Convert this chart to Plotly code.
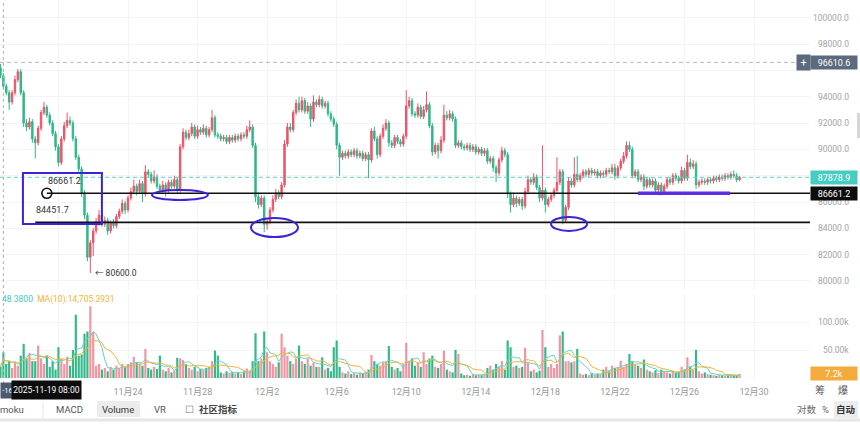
import plotly.graph_objects as go
import pandas as pd

# ---------------- data (4h candles, BTC-like) ----------------
start_time = "2025-11-16 16:00"
first_open = 96200
close = [
    95600, 94800, 94300, 93600, 94300, 95300, 95900, 94300, 92000, 91700,
    92100, 90800, 90500, 91600, 92800, 93200, 92600, 92000, 91200, 90200,
    89000, 90800, 91800, 92200, 92000, 90800, 89400, 88500, 86700, 85000,
    81800, 82900, 83800, 84500, 85000, 84300, 84600, 83800, 84400, 84200,
    84900, 85300, 85900, 85400, 86300, 86800, 87200, 86800, 87400, 86600,
    88300, 88100, 87600, 87900, 87200, 86900, 87300, 86900, 87500, 87200,
    87700, 86900, 90200, 91300, 90900, 91200, 91700, 91000, 91500, 91300,
    91600, 91100, 91500, 92400, 91100, 91000, 90800, 90900, 90600, 90900,
    90700, 91000, 90800, 91100, 91000, 91500, 91700, 90300, 86400, 85800,
    86300, 84300, 84500, 85400, 86200, 86700, 86400, 87300, 90400, 91700,
    91500, 92800, 93500, 93000, 93700, 92900, 93300, 92300, 93600, 93400,
    93800, 93300, 93500, 92700, 92300, 91900, 90300, 89400, 89700, 89500,
    89800, 89600, 89900, 89500, 89700, 89300, 89600, 89200, 91400, 90800,
    89600, 91000, 91600, 92000, 90500, 90300, 90900, 90600, 90400, 91000,
    93300, 93700, 92700, 92600, 93200, 92500, 93000, 93400, 91800, 89800,
    90300, 89900, 90700, 92600, 92400, 92700, 92300, 90300, 90500, 90200,
    90100, 90300, 90000, 90200, 89800, 90000, 89700, 89900, 89100, 89300,
    88600, 88200, 89200, 89900, 89600, 86600, 85800, 86300, 85900, 86200,
    85700, 86800, 87700, 87500, 87900, 87100, 86300, 86900, 85800, 86200,
    86500, 86900, 87500, 88300, 84600, 85600, 87600, 87300, 88100, 87700,
    88000, 88300, 88100, 88400, 88200, 88300, 88000, 88200, 88100, 88400,
    88300, 88600, 88000, 88600, 89100, 89500, 90300, 90000, 88000, 88300,
    87700, 87900, 87200, 87700, 87300, 87600, 86900, 87300, 86800, 87200,
    87700, 87500, 88000, 87800, 87600, 88400, 87800, 89000, 88700, 88900,
    87300, 87500, 87600, 87500, 87700, 87600, 87800, 87700, 87900, 87800,
    88000, 87900, 88100, 88000, 87700, 87878.9,
]
# upper / lower wick lengths in hundreds of USD
upper_wick = [
    3, 2, 2, 2, 2, 3, 2, 2, 2, 3,   3, 2, 2, 2, 2, 4, 2, 2, 2, 2,
    2, 2, 3, 6, 3, 2, 2, 2, 2, 2,   2, 2, 2, 3, 4, 2, 3, 2, 2, 3,
    2, 2, 3, 2, 2, 3, 5, 2, 3, 2,   5, 2, 2, 5, 2, 2, 3, 2, 2, 2,
    3, 2, 2, 3, 2, 3, 3, 2, 3, 2,   3, 2, 2, 6, 2, 2, 2, 2, 2, 2,
    2, 2, 2, 2, 2, 3, 5, 2, 2, 3,   2, 2, 2, 2, 3, 3, 2, 2, 3, 3,
    3, 2, 3, 5, 3, 2, 3, 2, 5, 2,   3, 2, 2, 2, 2, 2, 2, 2, 2, 2,
    2, 2, 2, 2, 2, 2, 2, 2, 2, 3,   2, 2, 3, 3, 2, 2, 2, 2, 2, 2,
    12, 3, 2, 2, 3, 2, 3, 10, 2, 2, 2, 2, 3, 8, 3, 3, 2, 2, 2, 2,
    2, 2, 2, 2, 2, 2, 2, 2, 2, 2,   2, 2, 2, 3, 2, 2, 2, 3, 2, 2,
    2, 3, 3, 2, 3, 2, 2, 34, 2, 2,  2, 2, 19, 2, 2, 2, 3, 2, 13, 14,
    2, 2, 2, 2, 2, 2, 2, 2, 2, 2,   2, 3, 3, 2, 2, 3, 3, 3, 2, 2,
    2, 2, 2, 2, 2, 2, 2, 2, 2, 2,   2, 2, 2, 2, 2, 3, 2, 6, 3, 3,
    2, 2, 2, 2, 2, 2, 2, 2, 2, 2,   2, 2, 2, 3, 2, 1,
]
lower_wick = [
    2, 2, 2, 6, 2, 2, 2, 2, 3, 3,   2, 3, 12, 2, 2, 2, 2, 2, 2, 3,
    3, 2, 2, 2, 2, 2, 2, 2, 3, 3,   3, 12, 10, 2, 3, 2, 2, 3, 2, 2,
    2, 2, 2, 3, 2, 2, 2, 3, 2, 6,   2, 2, 2, 2, 2, 2, 2, 5, 2, 2,
    2, 3, 2, 2, 2, 2, 2, 2, 2, 2,   2, 2, 2, 2, 2, 2, 2, 2, 2, 2,
    2, 2, 2, 2, 2, 2, 2, 2, 4, 3,   2, 6, 4, 2, 2, 2, 2, 2, 2, 2,
    2, 2, 2, 2, 2, 2, 2, 6, 2, 2,   2, 2, 2, 2, 2, 2, 3, 14, 2, 2,
    2, 2, 2, 2, 2, 2, 2, 14, 2, 2,  3, 2, 2, 2, 3, 2, 2, 2, 2, 2,
    2, 2, 2, 2, 2, 2, 2, 2, 2, 3,   2, 6, 2, 2, 2, 2, 2, 2, 2, 2,
    2, 2, 2, 2, 2, 2, 2, 2, 2, 2,   3, 7, 2, 2, 2, 3, 6, 2, 3, 2,
    3, 2, 2, 2, 2, 2, 3, 2, 6, 2,   2, 2, 2, 2, 3, 2, 2, 2, 2, 2,
    2, 2, 2, 2, 2, 2, 2, 2, 2, 2,   2, 2, 3, 2, 2, 2, 2, 2, 2, 2,
    2, 2, 3, 2, 2, 2, 3, 2, 3, 2,   2, 2, 2, 2, 2, 2, 2, 2, 2, 2,
    3, 2, 2, 2, 2, 2, 2, 2, 2, 2,   2, 2, 2, 2, 2, 1,
]
volume_k = [
    20, 46, 25, 30, 18, 28, 22, 40, 61, 35,   45, 30, 30, 58, 35, 25, 40, 20, 30, 15,
    55, 35, 25, 38, 22, 50, 113, 40, 42, 79,  83, 128, 82, 22, 25, 15, 18, 12, 20, 15,
    22, 18, 25, 20, 25, 28, 38, 28, 26, 22,   52, 18, 15, 20, 16, 40, 15, 12, 18, 10,
    14, 36, 35, 32, 25, 18, 15, 20, 12, 16,   14, 18, 20, 30, 49, 40, 10, 8, 12, 9,
    11, 8, 10, 7, 12, 17, 13, 30, 80, 30,     35, 83, 46, 30, 25, 20, 28, 79, 55, 40,
    30, 25, 35, 58, 30, 25, 35, 22, 28, 20,   20, 37, 15, 18, 12, 55, 67, 20, 10, 8,
    12, 7, 9, 6, 10, 8, 11, 15, 41, 30,       25, 22, 28, 30, 57, 20, 15, 18, 12, 25,
    63, 30, 35, 22, 28, 20, 46, 25, 35, 40,   20, 18, 25, 49, 15, 12, 10, 50, 43, 8,
    5, 6, 4, 7, 5, 6, 5, 7, 18, 22,           15, 25, 20, 30, 15, 67, 55, 20, 22, 18,
    20, 54, 27, 12, 15, 10, 13, 86, 55, 20,   25, 18, 25, 76, 83, 30, 30, 28, 30, 52,
    8, 6, 7, 5, 9, 6, 8, 7, 15, 20,           12, 22, 18, 20, 31, 20, 25, 43, 30, 25,
    22, 18, 33, 15, 12, 10, 14, 9, 15, 12,    10, 8, 12, 9, 11, 20, 15, 37, 20, 15,
    50, 12, 8, 10, 7, 6, 5, 4, 6, 5,          4, 5, 6, 4, 5, 7.2,
]
# price labels visible on the right axis (96000 and 88000 sit under the price boxes)
price_ticks = list(range(80000, 100001, 2000))
price_labels_shown = [80000, 82000, 84000, 86000, 90000, 92000, 94000, 98000, 100000]
date_ticks = ["2025-11-20", "2025-11-24", "2025-11-28", "2025-12-02", "2025-12-06",
              "2025-12-10", "2025-12-14", "2025-12-18", "2025-12-22", "2025-12-26", "2025-12-30"]
date_tick_text = ["", "11月24", "11月28", "12月2", "12月6", "12月10", "12月14",
                  "12月18", "12月22", "12月26", "12月30"]
last_price = 87878.9
high_mark = 96610.6
level_hi = 86661.2
level_lo = 84451.7
low_price = 80600.0

# ---------------- derived ----------------
times = pd.date_range(start_time, periods=len(close), freq="4h")
opens = [first_open] + close[:-1]
highs = [max(o, c) + u * 100 for o, c, u in zip(opens, close, upper_wick)]
lows = [min(o, c) - l * 100 for o, c, l in zip(opens, close, lower_wick)]
vol = [v * 1000 for v in volume_k]
ma5 = pd.Series(vol).rolling(5, min_periods=1).mean()
ma10 = pd.Series(vol).rolling(10, min_periods=1).mean()

RED = "#ec5468"
GREEN = "#2eb88a"
vol_colors = ["rgba(236,84,104,0.62)" if c >= o else "rgba(40,180,132,0.95)" for o, c in zip(opens, close)]

W, H = 860, 429
def px(x):
    return x / W
def py(y):
    return 1 - y / H

X_RANGE = ["2025-11-16 15:21", "2026-01-02 05:14"]
XDOM = [0, px(810)]
FONT = "Roboto, 'Noto Sans CJK SC', sans-serif"

fig = go.Figure()
fig.add_trace(go.Candlestick(
    x=times, open=opens, high=highs, low=lows, close=close,
    increasing=dict(line=dict(color=RED, width=1), fillcolor=RED),
    decreasing=dict(line=dict(color=GREEN, width=1), fillcolor=GREEN),
    whiskerwidth=0, xaxis="x", yaxis="y", hoverinfo="skip",
))
fig.add_trace(go.Bar(x=times, y=vol, marker=dict(color=vol_colors, line=dict(width=0)),
                     xaxis="x2", yaxis="y2", hoverinfo="skip"))
fig.add_trace(go.Scatter(x=times, y=ma5, mode="lines", line=dict(color="#5fd6cc", width=1),
                         xaxis="x2", yaxis="y2", hoverinfo="skip"))
fig.add_trace(go.Scatter(x=times, y=ma10, mode="lines", line=dict(color="#f5b335", width=1),
                         xaxis="x2", yaxis="y2", hoverinfo="skip"))
fig.add_trace(go.Scatter(x=["2025-11-19 08:00"], y=[level_hi], mode="markers",
                         marker=dict(symbol="circle", size=10, color="white",
                                     line=dict(color="#111", width=1.6)),
                         xaxis="x", yaxis="y", hoverinfo="skip", cliponaxis=False))

GRID = "#f3f4f6"
fig.update_layout(
    width=W, height=H, autosize=False,
    margin=dict(l=0, r=0, t=0, b=0),
    paper_bgcolor="white", plot_bgcolor="white",
    showlegend=False, bargap=0.25,
    font=dict(family=FONT, color="#999"),
    xaxis=dict(domain=XDOM, range=X_RANGE, type="date", anchor="y",
               showticklabels=False, tickvals=date_ticks, showgrid=True, gridcolor=GRID,
               zeroline=False, rangeslider=dict(visible=False), showline=False),
    xaxis2=dict(domain=XDOM, range=X_RANGE, type="date", anchor="y2", matches="x",
                tickvals=date_ticks, ticktext=date_tick_text, ticks="",
                ticklabelstandoff=5,
                tickfont=dict(size=9, color="#999", family=FONT),
                showgrid=True, gridcolor=GRID, zeroline=False, showline=False),
    yaxis=dict(domain=[py(290), 1], range=[79312, 101352], side="right",
               showticklabels=False, tickvals=price_ticks, showgrid=True, gridcolor=GRID,
               zeroline=False),
    yaxis2=dict(domain=[py(380), py(295)], range=[-3571, 148214], side="right",
                showticklabels=False, tickvals=[50000, 100000], showgrid=True, gridcolor=GRID,
                zeroline=False),
)

END = X_RANGE[1]
VIOLET = "#3c22d8"
shapes = [
    dict(type="line", xref="x", yref="paper", x0="2025-11-16 20:00", x1="2025-11-16 20:00",
         y0=py(384), y1=1, line=dict(color="#b0b0b0", width=1, dash="3px,3px")),
    dict(type="line", xref="paper", yref="y", x0=0, x1=px(797), y0=high_mark, y1=high_mark,
         line=dict(color="#b8b8b8", width=1, dash="4px,3px")),
    dict(type="line", xref="paper", yref="y", x0=0, x1=px(810), y0=last_price, y1=last_price,
         line=dict(color="#61cfc6", width=1, dash="4px,3px")),
    dict(type="line", xref="x", yref="y", x0="2025-11-19 08:00", x1=END, y0=level_hi, y1=level_hi,
         line=dict(color="#111", width=1.6)),
    dict(type="line", xref="x", yref="y", x0="2025-11-18 16:00", x1=END, y0=level_lo, y1=level_lo,
         line=dict(color="#111", width=1.6)),
    dict(type="rect", xref="x", yref="y", x0="2025-11-17 23:00", x1="2025-11-22 12:00",
         y0=84330, y1=88200, line=dict(color=VIOLET, width=2)),
    dict(type="circle", xref="x", yref="y", x0="2025-11-25 09:00", x1="2025-11-28 14:20",
         y0=86150, y1=86910, line=dict(color=VIOLET, width=2)),
    dict(type="circle", xref="x", yref="y", x0="2025-12-01 01:45", x1="2025-12-03 18:40",
         y0=83340, y1=84780, line=dict(color=VIOLET, width=2)),
    dict(type="circle", xref="x", yref="y", x0="2025-12-18 07:50", x1="2025-12-20 09:30",
         y0=83800, y1=84860, line=dict(color=VIOLET, width=2)),
    dict(type="line", xref="x", yref="y", x0="2025-12-23 07:50", x1="2025-12-28 14:50",
         y0=level_hi, y1=level_hi, line=dict(color="#5a2fe6", width=3.5)),
    dict(type="line", xref="paper", yref="paper", x0=0, x1=1, y0=py(420), y1=py(420),
         line=dict(color="#e6e6e6", width=3)),
    dict(type="line", xref="paper", yref="paper", x0=px(43), x1=px(43), y0=py(401), y1=py(418),
         line=dict(color="#e6e6e6", width=1)),
    dict(type="rect", xref="paper", yref="paper", x0=px(97), x1=px(140), y0=py(417), y1=py(401),
         fillcolor="#ececec", line=dict(width=0), layer="below"),
    dict(type="rect", xref="paper", yref="paper", x0=px(834), x1=px(858), y0=py(418), y1=py(401),
         fillcolor="#ececec", line=dict(width=0), layer="below"),
    dict(type="rect", xref="paper", yref="paper", x0=px(857), x1=px(860), y0=py(138), y1=py(113),
         fillcolor="#d6d6d6", line=dict(width=0)),
]
fig.update_layout(shapes=shapes)

ann = []
for v in price_labels_shown:
    ann.append(dict(xref="paper", yref="y", x=px(851), y=v, text=f"{v:.1f}", showarrow=False,
                    xanchor="right", yanchor="middle", font=dict(size=8.5, color="#a3a3a3")))
for v, t in [(100000, "100.00k"), (50000, "50.00k")]:
    ann.append(dict(xref="paper", yref="y2", x=px(851), y=v, text=t, showarrow=False,
                    xanchor="right", yanchor="middle", font=dict(size=8.5, color="#a3a3a3")))

def price_box(yref, y, text, bg, x_center=833.5, width=46):
    return dict(xref="paper", yref=yref, x=px(x_center), y=y, text=text, showarrow=False,
                xanchor="center", yanchor="middle", bgcolor=bg, width=width, height=13,
                font=dict(size=9, color="white"), borderpad=0)

ann.append(dict(xref="paper", yref="y", x=px(803), y=high_mark, text="+", showarrow=False,
                xanchor="center", yanchor="middle", bgcolor="#5b6a7d", width=11, height=13,
                font=dict(size=11, color="white")))
ann.append(price_box("y", high_mark, f"{high_mark:.1f}", "#5b6a7d"))
ann.append(price_box("y", last_price, f"{last_price:.1f}", "#45cdc2"))
ann.append(price_box("y", level_hi, f"{level_hi:.1f}", "#0d0d0d"))
ann.append(price_box("y2", volume_k[-1] * 1000, f"{volume_k[-1]}k", "#f5aa3c"))

ann.append(dict(xref="x", yref="y", x="2025-11-20 08:00", y=level_hi, yshift=12,
                text=f"{level_hi:.1f}", showarrow=False, font=dict(size=9, color="#333")))
ann.append(dict(xref="x", yref="y", x="2025-11-19 16:00", y=level_lo, yshift=12,
                text=f"{level_lo:.1f}", showarrow=False, font=dict(size=9, color="#333")))
ann.append(dict(xref="x", yref="y", x=times[31], y=low_price, xshift=3, xanchor="left",
                text=f"← {low_price:.1f}", showarrow=False, font=dict(size=8.5, color="#333")))

ann.append(dict(xref="paper", yref="paper", x=0, y=py(299), xanchor="left", yanchor="middle",
                text="<span style='color:#46c7bd'>48.3800</span>  "
                     "<span style='color:#f5b335'>MA(10):14,705.3931</span>",
                showarrow=False, font=dict(size=8.5)))
ann.append(dict(xref="paper", yref="paper", x=0, y=py(390), xanchor="left", yanchor="middle",
                text="-16", showarrow=False, bgcolor="#4d5a6b", height=15, width=13,
                font=dict(size=7.5, color="white"), borderpad=0))
ann.append(dict(xref="paper", yref="paper", x=px(46.5), y=py(390), xanchor="center", yanchor="middle",
                text="2025-11-19 08:00", showarrow=False, bgcolor="#0d0d0d", width=67, height=16,
                font=dict(size=8.5, color="white")))
ann.append(dict(xref="paper", yref="paper", x=px(827), y=py(390), yanchor="middle", text="筹",
                showarrow=False, font=dict(size=10, color="#555")))
ann.append(dict(xref="paper", yref="paper", x=px(850), y=py(390), yanchor="middle", text="爆",
                showarrow=False, font=dict(size=10, color="#555")))
tb = [(12, "moku", "#555", False), (69, "MACD", "#555", False), (118, "Volume", "#333", False),
      (160, "VR", "#555", False), (189, "☐", "#777", False), (218, "社区指标", "#444", True),
      (807, "对数", "#666", False), (825, "%", "#666", False), (846, "自动", "#333", True)]
for x, t, c, b in tb:
    ann.append(dict(xref="paper", yref="paper", x=px(x), y=py(409), text=f"<b>{t}</b>" if b else t,
                    showarrow=False, xanchor="center", yanchor="middle",
                    font=dict(size=9.5, color=c)))
fig.update_layout(annotations=ann)

fig.write_html("out.html", config={"displayModeBar": False})
